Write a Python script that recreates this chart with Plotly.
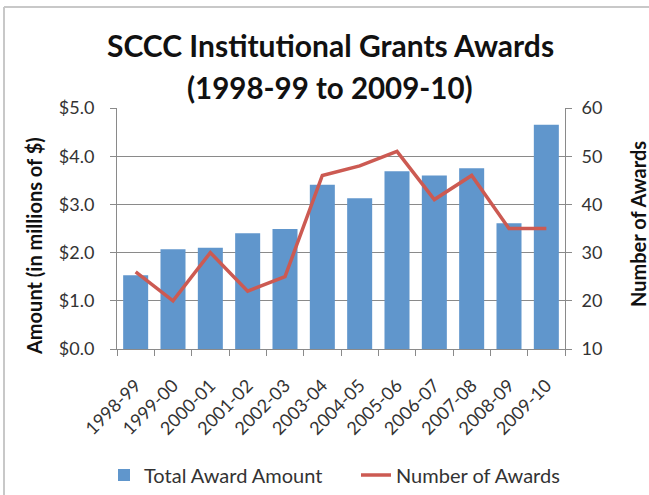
import plotly.graph_objects as go

years = ["1998-99", "1999-00", "2000-01", "2001-02", "2002-03", "2003-04",
         "2004-05", "2005-06", "2006-07", "2007-08", "2008-09", "2009-10"]
total_amount = [1.53, 2.07, 2.10, 2.40, 2.49, 3.41, 3.13, 3.69, 3.60, 3.75, 2.61, 4.65]
num_awards = [26, 20, 30, 22, 25, 46, 48, 51, 41, 46, 35, 35]

W, H = 649, 495
L, R, T, B = 117, 84, 108, 146
PW, PH = W - L - R, H - T - B

def px_x(x):
    return (x - L) / PW

def px_y(y):
    return (H - B - y) / PH

FONT = "Lato"
GRID = "#8a8a8a"
TXT = "#333333"

fig = go.Figure()
fig.add_trace(go.Bar(x=years, y=total_amount, name="Total Award Amount",
                     marker=dict(color="#6096CC", line=dict(width=0)), yaxis="y"))
fig.add_trace(go.Scatter(x=years, y=num_awards, name="Number of Awards", mode="lines",
                         line=dict(color="#CC5A52", width=3.5), yaxis="y2"))

fig.update_layout(
    width=W, height=H,
    margin=dict(l=L, r=R, t=T, b=B, pad=0, autoexpand=False),
    paper_bgcolor="white", plot_bgcolor="white",
    font=dict(family=FONT, color=TXT),
    bargap=0.33,
    showlegend=True,
    legend=dict(orientation="h", xref="paper", yref="paper",
                x=px_x(104), xanchor="left", y=px_y(475), yanchor="middle",
                font=dict(size=20, color=TXT), itemwidth=30, traceorder="normal",
                entrywidth=207, bgcolor="rgba(0,0,0,0)"),
    xaxis=dict(type="category", showline=True, linecolor=GRID, linewidth=1,
               ticks="outside", tickson="boundaries", ticklen=6, tickcolor=GRID,
               tickangle=-45, tickfont=dict(size=18, color=TXT), showgrid=False,
               ticklabelstandoff=18, automargin=False),
    yaxis=dict(range=[0, 5], dtick=1, tickprefix="$", tickformat=".1f",
               showline=True, linecolor=GRID, linewidth=1,
               ticks="outside", ticklen=6, tickcolor=GRID,
               showgrid=True, gridcolor=GRID, gridwidth=1, automargin=False,
               tickfont=dict(size=18, color=TXT), ticklabelstandoff=12, zeroline=False),
    yaxis2=dict(range=[10, 60], dtick=10, overlaying="y", side="right",
                showline=True, linecolor=GRID, linewidth=1, automargin=False,
                ticks="outside", ticklen=6, tickcolor=GRID, showgrid=False,
                tickfont=dict(size=18, color=TXT), ticklabelstandoff=6, zeroline=False),
    annotations=[
        dict(text="<b>SCCC Institutional Grants Awards</b>", x=px_x(330), y=px_y(45),
             xref="paper", yref="paper", showarrow=False, xanchor="center", yanchor="middle",
             font=dict(size=30, color="#111111")),
        dict(text="<b>(1998-99 to 2009-10)</b>", x=px_x(330), y=px_y(87),
             xref="paper", yref="paper", showarrow=False, xanchor="center", yanchor="middle",
             font=dict(size=29.5, color="#111111")),
        dict(text="<b>Amount (in millions of $)</b>", x=px_x(34), y=px_y(246),
             xref="paper", yref="paper", showarrow=False, xanchor="center", yanchor="middle",
             textangle=-90, font=dict(size=20, color="#111111")),
        dict(text="<b>Number of Awards</b>", x=px_x(638), y=px_y(224),
             xref="paper", yref="paper", showarrow=False, xanchor="center", yanchor="middle",
             textangle=-90, font=dict(size=20, color="#111111")),
    ],
    shapes=[
        dict(type="line", xref="paper", yref="paper", x0=px_x(4), x1=px_x(W + 5),
             y0=px_y(7), y1=px_y(7), line=dict(color="#c8c8c8", width=2)),
        dict(type="line", xref="paper", yref="paper", x0=px_x(4), x1=px_x(4),
             y0=px_y(7), y1=px_y(H + 5), line=dict(color="#c8c8c8", width=2)),
    ],
)

fig.write_html("out.html", config={"displayModeBar": False},
               post_script="document.body.style.margin='0';document.body.style.overflow='hidden';")
